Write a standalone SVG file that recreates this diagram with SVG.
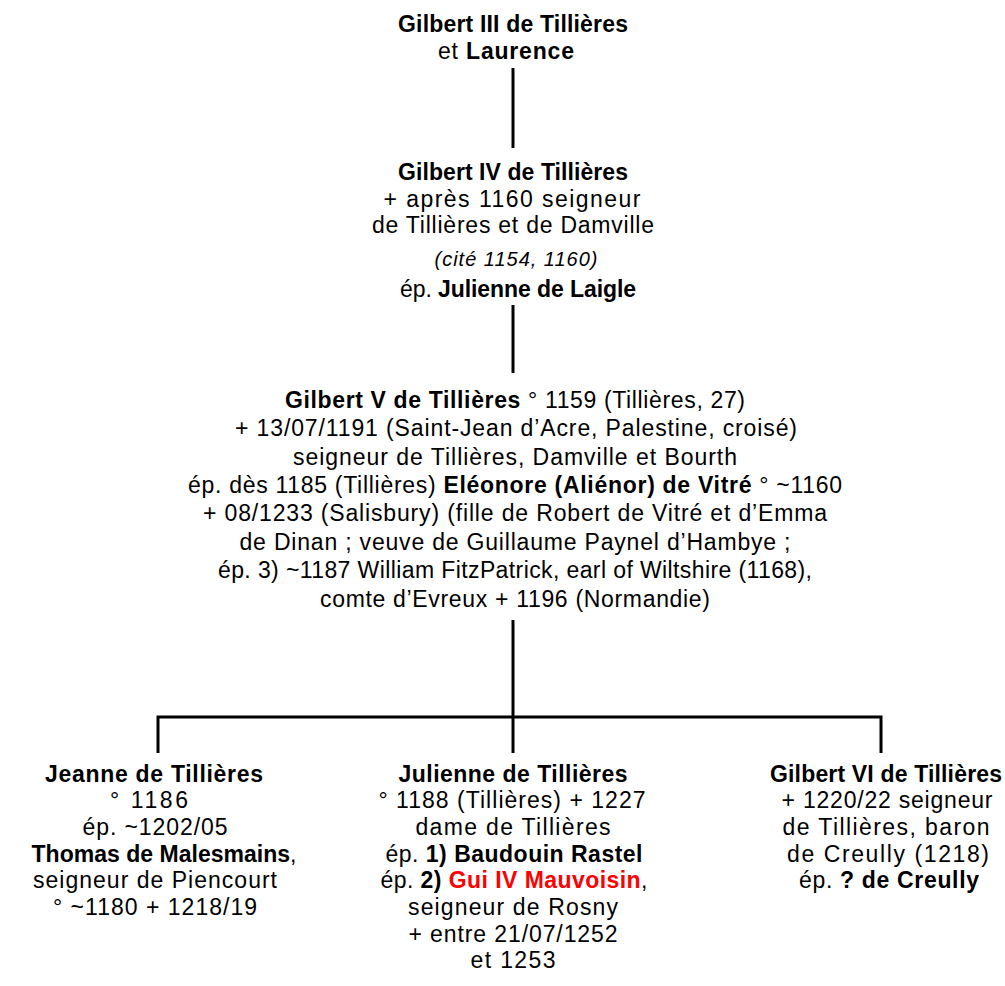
<svg xmlns="http://www.w3.org/2000/svg" width="1005" height="986" viewBox="0 0 1005 986">
<style>
text{font-family:"Liberation Sans",Arial,sans-serif;font-size:23px;fill:#000;text-anchor:middle}
.b{font-weight:bold}
.i{font-style:italic;font-size:20px}
.r{fill:#ff0000}
.c{stroke:#000;stroke-width:3;fill:none}
</style>
<rect width="1005" height="986" fill="#fff"/>
<g id="connectors">
<line class="c" x1="513" y1="68" x2="513" y2="148"/>
<line class="c" x1="513" y1="305" x2="513" y2="373"/>
<line class="c" x1="513" y1="620" x2="513" y2="753"/>
<polyline class="c" points="158,753 158,717 881,717 881,753"/>
</g>
<g id="n1">
<text x="513" y="32" class="b" textLength="230" lengthAdjust="spacing">Gilbert III de Tillières</text>
<text x="506" y="59" textLength="136" lengthAdjust="spacing">et <tspan class="b">Laurence</tspan></text>
</g>
<g id="n2">
<text x="513" y="180" class="b" textLength="230" lengthAdjust="spacing">Gilbert IV de Tillières</text>
<text x="512" y="207" textLength="257" lengthAdjust="spacing">+ après 1160 seigneur</text>
<text x="513" y="233" textLength="282" lengthAdjust="spacing">de Tillières et de Damville</text>
<text x="516" y="266" class="i" textLength="163" lengthAdjust="spacing">(cité 1154, 1160)</text>
<text x="518" y="297" textLength="236" lengthAdjust="spacing">ép. <tspan class="b">Julienne de Laigle</tspan></text>
</g>
<g id="n3">
<text x="515" y="408" textLength="460" lengthAdjust="spacing"><tspan class="b">Gilbert V de Tillières</tspan> ° 1159 (Tillières, 27)</text>
<text x="516" y="436" textLength="562" lengthAdjust="spacing">+ 13/07/1191 (Saint-Jean d’Acre, Palestine, croisé)</text>
<text x="515" y="465" textLength="444" lengthAdjust="spacing">seigneur de Tillières, Damville et Bourth</text>
<text x="515" y="493" textLength="654" lengthAdjust="spacing">ép. dès 1185 (Tillières) <tspan class="b">Eléonore (Aliénor) de Vitré</tspan> ° ~1160</text>
<text x="515" y="521" textLength="624" lengthAdjust="spacing">+ 08/1233 (Salisbury) (fille de Robert de Vitré et d’Emma</text>
<text x="515" y="550" textLength="551" lengthAdjust="spacing">de Dinan ; veuve de Guillaume Paynel d’Hambye ;</text>
<text x="515" y="578" textLength="594" lengthAdjust="spacing">ép. 3) ~1187 William FitzPatrick, earl of Wiltshire (1168),</text>
<text x="515" y="607" textLength="390" lengthAdjust="spacing">comte d’Evreux + 1196 (Normandie)</text>
</g>
<g id="n4">
<text x="154" y="782" class="b" textLength="218" lengthAdjust="spacing">Jeanne de Tillières</text>
<text x="149" y="808" textLength="78" lengthAdjust="spacing">° 1186</text>
<text x="155" y="835" textLength="145" lengthAdjust="spacing">ép. ~1202/05</text>
<text x="164" y="862" textLength="265" lengthAdjust="spacing"><tspan class="b">Thomas de Malesmains</tspan>,</text>
<text x="155" y="888" textLength="244" lengthAdjust="spacing">seigneur de Piencourt</text>
<text x="155" y="915" textLength="204" lengthAdjust="spacing">° ~1180 + 1218/19</text>
</g>
<g id="n5">
<text x="513" y="782" class="b" textLength="229" lengthAdjust="spacing">Julienne de Tillières</text>
<text x="512" y="808" textLength="267" lengthAdjust="spacing">° 1188 (Tillières) + 1227</text>
<text x="513" y="835" textLength="195" lengthAdjust="spacing">dame de Tillières</text>
<text x="514" y="862" textLength="257" lengthAdjust="spacing">ép. <tspan class="b">1) Baudouin Rastel</tspan></text>
<text x="514" y="888" textLength="267" lengthAdjust="spacing">ép. <tspan class="b">2)</tspan> <tspan class="b r">Gui IV Mauvoisin</tspan>,</text>
<text x="513" y="915" textLength="210" lengthAdjust="spacing">seigneur de Rosny</text>
<text x="513" y="942" textLength="209" lengthAdjust="spacing">+ entre 21/07/1252</text>
<text x="513" y="968" textLength="85" lengthAdjust="spacing">et 1253</text>
</g>
<g id="n6">
<text x="886" y="782" class="b" textLength="232" lengthAdjust="spacing">Gilbert VI de Tillières</text>
<text x="887" y="808" textLength="211" lengthAdjust="spacing">+ 1220/22 seigneur</text>
<text x="886" y="835" textLength="207" lengthAdjust="spacing">de Tillières, baron</text>
<text x="888" y="862" textLength="202" lengthAdjust="spacing">de Creully (1218)</text>
<text x="889" y="888" textLength="180" lengthAdjust="spacing">ép. <tspan class="b">? de Creully</tspan></text>
</g>
</svg>
